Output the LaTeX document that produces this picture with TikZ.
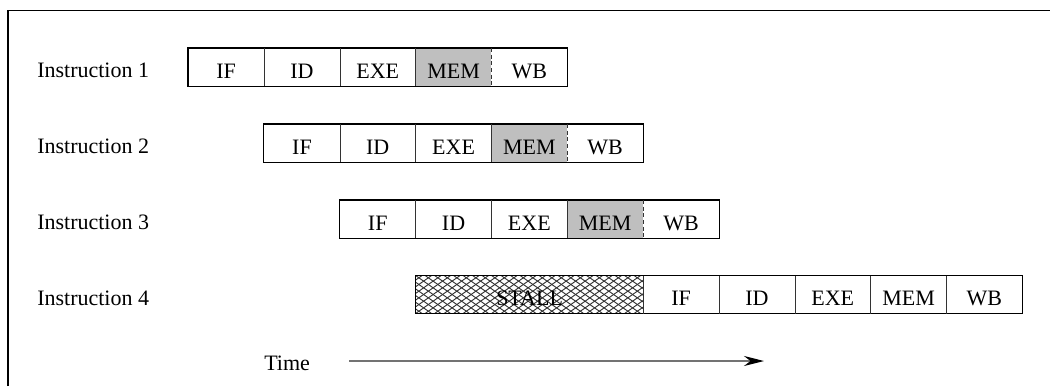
\documentclass[tikz,border=0pt]{standalone}
\usepackage{fontspec}
\setmainfont{Liberation Serif}
\usetikzlibrary{arrows.meta}
\begin{document}
\begin{tikzpicture}[x=0.75pt,y=-0.75pt,
  every node/.style={font=\fontsize{16.5}{19}\selectfont, text height=16.5pt, text depth=0pt},
  cell/.style={minimum width=56.85pt, minimum height=28.2pt, inner sep=0pt, anchor=north west},
  memcell/.style={cell, fill=black!25},
  stallcell/.style={cell, minimum width=170.6pt},
  hatch/.style={draw=black!80, line width=0.7pt},
  outline/.style={draw=black, line width=0.8pt},
  divider/.style={draw=black!80, line width=0.75pt},
  memdiv/.style={divider, dash pattern=on 3pt off 2pt},
  rowlabel/.style={anchor=west, inner sep=0pt},
  frameline/.style={draw=black, line width=0.85pt},
  timearrow/.style={draw=black!55, line width=1.1pt, -{Stealth[black, length=15pt, width=7.5pt]}}
]
\useasboundingbox (0,0) rectangle (1050,386);

% open frame: left and top edges
\coordinate (frameBL) at (8,386);
\coordinate (frameTL) at (8,10.5);
\coordinate (frameTR) at (1050,10.5);
\draw[frameline] (frameBL) -- (frameTL) -- (frameTR);

% instructions 1-3: five stages each, MEM shaded
\foreach \r/\xs/\yt in {1/188/48, 2/263.8/124, 3/339.6/200} {
  \node[cell]    (r\r c1) at (\xs,\yt) {IF};
  \node[cell]    (r\r c2) at (\xs+75.8,\yt) {ID};
  \node[cell]    (r\r c3) at (\xs+151.6,\yt) {EXE};
  \node[memcell] (r\r c4) at (\xs+227.4,\yt) {MEM};
  \node[cell]    (r\r c5) at (\xs+303.2,\yt) {WB};
  \draw[outline] (r\r c1.north west) rectangle (r\r c5.south east);
  \foreach \i in {1,2,3}
    \draw[divider] (r\r c\i.north east) -- (r\r c\i.south east);
  \draw[memdiv] (r\r c4.north east) -- (r\r c4.south east);
  \node[rowlabel] (lab\r) at (37,\yt+18.8) {Instruction \r};
}

% instruction 4: cross-hatched stall, then the five stages
\node[stallcell] (stall) at (415.6,275.5) {};
\begin{scope}
  \clip (stall.north west) rectangle (stall.south east);
  \foreach \k in {-7,...,25} {
    \draw[hatch] (415.6+\k*9.5,275.5) -- ++(54,38);
    \draw[hatch] (415.6+\k*9.5+54,275.5) -- ++(-54,38);
  }
\end{scope}
\node (stalltext) at (stall.center) {STALL};
\node[cell] (r4c1) at (643,275.5) {IF};
\node[cell] (r4c2) at (718.8,275.5) {ID};
\node[cell] (r4c3) at (794.6,275.5) {EXE};
\node[cell] (r4c4) at (870.4,275.5) {MEM};
\node[cell] (r4c5) at (946.2,275.5) {WB};
\draw[outline] (stall.north west) rectangle (r4c5.south east);
\draw[divider] (stall.north east) -- (stall.south east);
\foreach \i in {1,2,3,4}
  \draw[divider] (r4c\i.north east) -- (r4c\i.south east);
\node[rowlabel] (lab4) at (37,294.3) {Instruction 4};

% time axis
\node[rowlabel] (time) at (264,359.7) {Time};
\coordinate (tstart) at (349,361);
\coordinate (tend) at (764,361);
\draw[timearrow] (tstart) -- (tend);
\end{tikzpicture}
\end{document}
